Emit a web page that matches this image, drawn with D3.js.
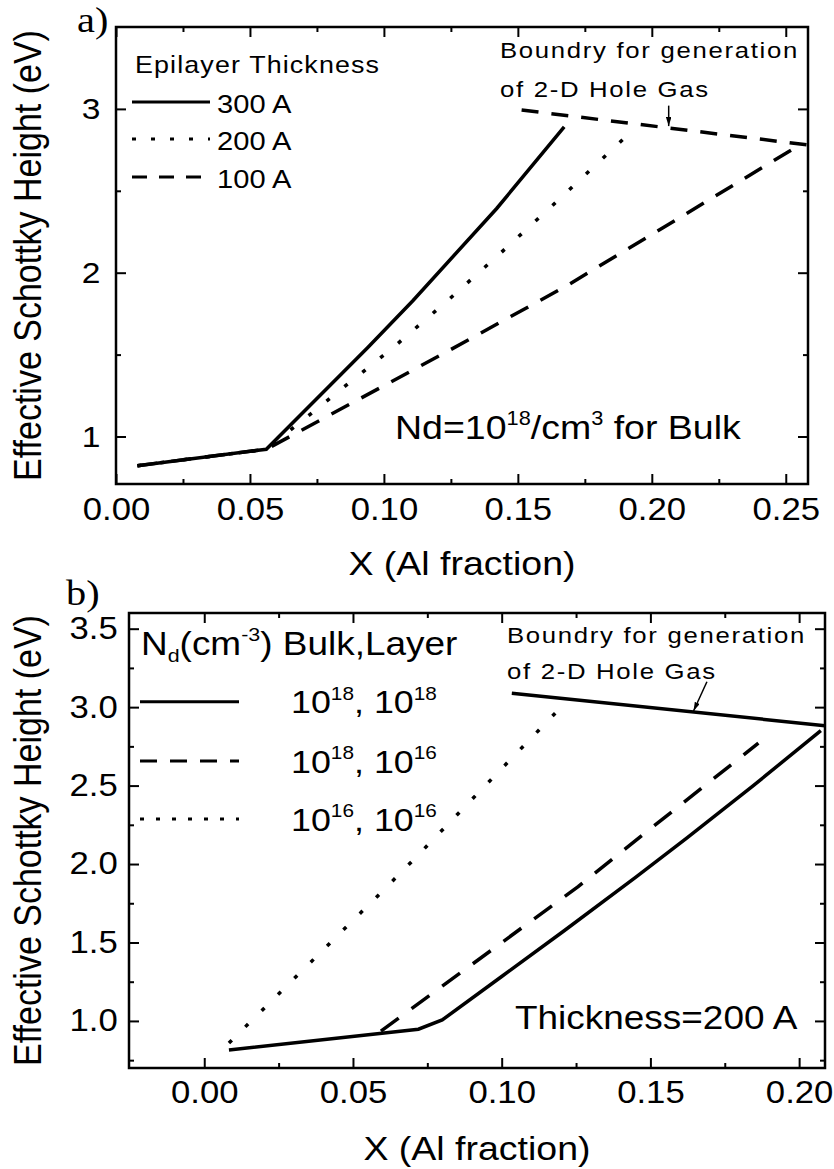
<!DOCTYPE html>
<html>
<head>
<meta charset="utf-8">
<script src="https://cdn.jsdelivr.net/npm/d3@7"></script>
<style>
  body { margin: 0; background: #fff; }
  svg text { font-family: "Liberation Sans", Arial, Helvetica, sans-serif; fill: #000; }
  .line { fill: none; stroke: #000; }
  .serif { font-family: "Liberation Serif", "Times New Roman", serif !important; }
</style>
</head>
<body>
<div id="chart"></div>
<script>
// the scanned figure is a bit wider than it is tall, text gets the same stretch
var SX = 1.12;

// ---- a) Nd = 1e18 bulk, three epilayer thicknesses ----
var xThick300 = [0.008, 0.0561, 0.0939, 0.1108, 0.1421, 0.1673];
var yThick300 = [0.822, 0.922, 1.542, 1.829, 2.392, 2.89];
var xThick200 = [0.008, 0.0561, 0.0760, 0.1038, 0.1240, 0.1439, 0.1644, 0.1907];
var yThick200 = [0.822, 0.922, 1.182, 1.548, 1.833, 2.125, 2.433, 2.836];
var xThick100 = [0.008, 0.0561, 0.1213, 0.1682, 0.2123, 0.2552];
var yThick100 = [0.822, 0.922, 1.498, 1.92, 2.355, 2.78];
var xBoundA = [0.1514, 0.2582];
var yBoundA = [2.993, 2.780];
var xArrowA = [0.2063, 0.2063];
var yArrowA = [3.02, 2.895];
var thickLabels = ["300 A", "200 A", "100 A"];
var xTicksA = [0, 0.05, 0.10, 0.15, 0.20, 0.25];
var xMinorA = [0.025, 0.075, 0.125, 0.175, 0.225];
var yTicksA = [1, 2, 3];
var yMinorA = [1.5, 2.5];

// ---- b) thickness 200 A, three doping combinations ----
var xDop1818 = [0.0083, 0.072, 0.080, 0.100, 0.121, 0.145, 0.1622, 0.1846, 0.2073];
var yDop1818 = [0.815, 0.947, 1.006, 1.283, 1.575, 1.915, 2.165, 2.50, 2.85];
var xDop1816 = [0.0594, 0.1257, 0.151, 0.1863];
var yDop1816 = [0.935, 1.856, 2.24, 2.77];
var xDop1616 = [0.0083, 0.0594, 0.0703, 0.1185];
var yDop1616 = [0.859, 1.817, 2.026, 2.971];
var xBoundB = [0.1034, 0.2087];
var yBoundB = [3.088, 2.882];
var xArrowB = [0.169, 0.1645];
var yArrowB = [3.162, 2.975];
var dopLabels = [["18", "18"], ["18", "16"], ["16", "16"]];
var xTicksB = [0, 0.05, 0.10, 0.15, 0.20];
var xMinorB = [0.025, 0.075, 0.125, 0.175];
var yTicksB = [1.0, 1.5, 2.0, 2.5, 3.0, 3.5];
var yMinorB = [0.75, 1.25, 1.75, 2.25, 2.75, 3.25];

var svg = d3.select("#chart").append("svg")
  .attr("width", 834).attr("height", 1169);

svg.append("defs").append("marker")
  .attr("id", "head")
  .attr("viewBox", "0 0 10 6")
  .attr("refX", 10).attr("refY", 3)
  .attr("markerWidth", 9).attr("markerHeight", 5.4)
  .attr("markerUnits", "userSpaceOnUse")
  .attr("orient", "auto")
  .append("path").attr("d", "M0,0 L10,3 L0,6 z").attr("fill", "#000");

function addAxis(g, gen, tx, ty, values, size, fmt, pad, fontSize) {
  var a = g.append("g")
    .attr("transform", "translate(" + tx + "," + ty + ")")
    .call(gen.tickValues(values).tickSize(-size).tickSizeOuter(0)
      .tickPadding(pad || 0).tickFormat(fmt || function () { return ""; }));
  a.select(".domain").remove();
  a.selectAll("line").attr("stroke-width", 2);
  a.selectAll("text").attr("font-size", fontSize)
    .attr("transform", "scale(" + SX + ",1)");
  return a;
}

// text with sup / sub parts, stretched like the scan
function richText(g, x, y, size, parts, spacing) {
  var t = g.append("text")
    .attr("transform", "translate(" + x + "," + y + ") scale(" + SX + ",1)")
    .attr("font-size", size);
  if (spacing) t.attr("letter-spacing", spacing);
  var cur = 0;
  parts.forEach(function (p) {
    if (typeof p === "string") p = [p, null];
    var shift = p[1] === "sup" ? -0.42 * size : p[1] === "sub" ? 0.2 * size : 0;
    var s = t.append("tspan").text(p[0]).attr("dy", shift - cur);
    if (p[1]) s.attr("font-size", size * 0.58);
    cur = shift;
  });
  return t;
}

function series(g, x, y, xs, ys, dash, width) {
  var line = d3.line().x(function (d) { return x(d[0]); }).y(function (d) { return y(d[1]); });
  return g.append("path")
    .datum(d3.zip(xs, ys))
    .attr("class", "line")
    .attr("stroke-width", width)
    .attr("stroke-dasharray", dash)
    .attr("d", line);
}

function makePanel(p) {
  var x = d3.scaleLinear().domain(p.xDomain).range([p.left, p.right]);
  var y = d3.scaleLinear().domain(p.yDomain).range([p.bottom, p.top]);
  var g = svg.append("g");

  addAxis(g, d3.axisBottom(x), 0, p.bottom, p.xTicks, 10, d3.format(".2f"), p.xPad, 31);
  addAxis(g, d3.axisBottom(x), 0, p.bottom, p.xMinor, 5);
  addAxis(g, d3.axisTop(x), 0, p.top, p.xTicks, 10);
  addAxis(g, d3.axisTop(x), 0, p.top, p.xMinor, 5);
  addAxis(g, d3.axisLeft(y), p.left, 0, p.yTicks, 10, p.yFormat, p.yPad, p.yFont);
  addAxis(g, d3.axisLeft(y), p.left, 0, p.yMinor, 5);
  addAxis(g, d3.axisRight(y), p.right, 0, p.yTicks, 10);
  addAxis(g, d3.axisRight(y), p.right, 0, p.yMinor, 5);

  g.append("rect")
    .attr("x", p.left).attr("y", p.top)
    .attr("width", p.right - p.left).attr("height", p.bottom - p.top)
    .attr("fill", "none").attr("stroke", "#000").attr("stroke-width", 2.5);

  g.append("text")
    .attr("text-anchor", "middle").attr("font-size", 33.5)
    .attr("transform", "translate(" + (p.left + p.right) / 2 + "," + p.titleY + ") scale(" + SX + ",1)")
    .text("X (Al fraction)");

  g.append("text")
    .attr("text-anchor", "middle").attr("font-size", 34)
    .attr("transform", "translate(41," + (p.top + p.bottom) / 2 + ") scale(" + SX + ",1) rotate(-90)")
    .text("Effective Schottky Height (eV)");

  g.append("text").attr("class", "serif")
    .attr("font-size", p.tagSize)
    .attr("transform", "translate(" + p.tagX + "," + p.tagY + ") scale(" + SX + ",1)")
    .text(p.tag);

  return { g: g, x: x, y: y };
}

// ---------- panel a ----------
var A = makePanel({
  xDomain: [0, 0.2583], yDomain: [0.71, 3.5],
  left: 116, right: 808, top: 27, bottom: 484,
  xTicks: xTicksA, xMinor: xMinorA, yTicks: yTicksA, yMinor: yMinorA,
  yFormat: d3.format("d"), yFont: 30, xPad: 14, yPad: 14,
  titleY: 575, tag: "a)", tagX: 77, tagY: 32, tagSize: 36
});

series(A.g, A.x, A.y, xThick300, yThick300, null, 3.5);
series(A.g, A.x, A.y, xThick200, yThick200, "4,19", 3.5);
series(A.g, A.x, A.y, xThick100, yThick100, "20,14", 3.5);
series(A.g, A.x, A.y, xBoundA, yBoundA, "17,13", 3.5);
series(A.g, A.x, A.y, xArrowA, yArrowA, null, 1.5).attr("marker-end", "url(#head)");

richText(A.g, 135, 73, 24, ["Epilayer Thickness"], 1);
var legA = [[102, null], [139, "4,15"], [177, "15,12"]];
legA.forEach(function (r, i) {
  A.g.append("line").attr("class", "line")
    .attr("x1", 132).attr("x2", 210).attr("y1", r[0]).attr("y2", r[0])
    .attr("stroke-width", 3).attr("stroke-dasharray", r[1]);
  richText(A.g, 217, r[0] + 10.5, 26, [thickLabels[i]]);
});

richText(A.g, 500, 58, 23, ["Boundry for generation"], 1.5);
richText(A.g, 500, 96.5, 23, ["of 2-D Hole Gas"], 1.5);
richText(A.g, 395, 439, 33.5, ["Nd=10", ["18", "sup"], "/cm", ["3", "sup"], " for Bulk"]);

// ---------- panel b ----------
var B = makePanel({
  xDomain: [-0.0253, 0.2087], yDomain: [0.7, 3.6],
  left: 129, right: 825, top: 613, bottom: 1068,
  xTicks: xTicksB, xMinor: xMinorB, yTicks: yTicksB, yMinor: yMinorB,
  yFormat: d3.format(".1f"), yFont: 31, xPad: 13, yPad: 10,
  titleY: 1160, tag: "b)", tagX: 66, tagY: 605, tagSize: 36
});

series(B.g, B.x, B.y, xDop1818, yDop1818, null, 3.5);
series(B.g, B.x, B.y, xDop1816, yDop1816, "22,16", 3.5);
series(B.g, B.x, B.y, xDop1616, yDop1616, "4,19", 3.5);
series(B.g, B.x, B.y, xBoundB, yBoundB, null, 3.5);
series(B.g, B.x, B.y, xArrowB, yArrowB, null, 1.5).attr("marker-end", "url(#head)");

richText(B.g, 141, 655, 33, ["N", ["d", "sub"], "(cm", ["-3", "sup"], ") Bulk,Layer"]);
var legB = [[701.7, null], [761, "17,13"], [819, "4,12"]];
legB.forEach(function (r, i) {
  B.g.append("line").attr("class", "line")
    .attr("x1", 140).attr("x2", 239).attr("y1", r[0]).attr("y2", r[0])
    .attr("stroke-width", 3).attr("stroke-dasharray", r[1]);
  richText(B.g, 291, r[0] + 11.5, 32,
    ["10", [dopLabels[i][0], "sup"], ", 10", [dopLabels[i][1], "sup"]]);
});

richText(B.g, 507, 642.7, 23, ["Boundry for generation"], 1.5);
richText(B.g, 507, 679, 23, ["of 2-D Hole Gas"], 1.5);
richText(B.g, 515, 1029, 33, ["Thickness=200 A"]);
</script>
</body>
</html>
